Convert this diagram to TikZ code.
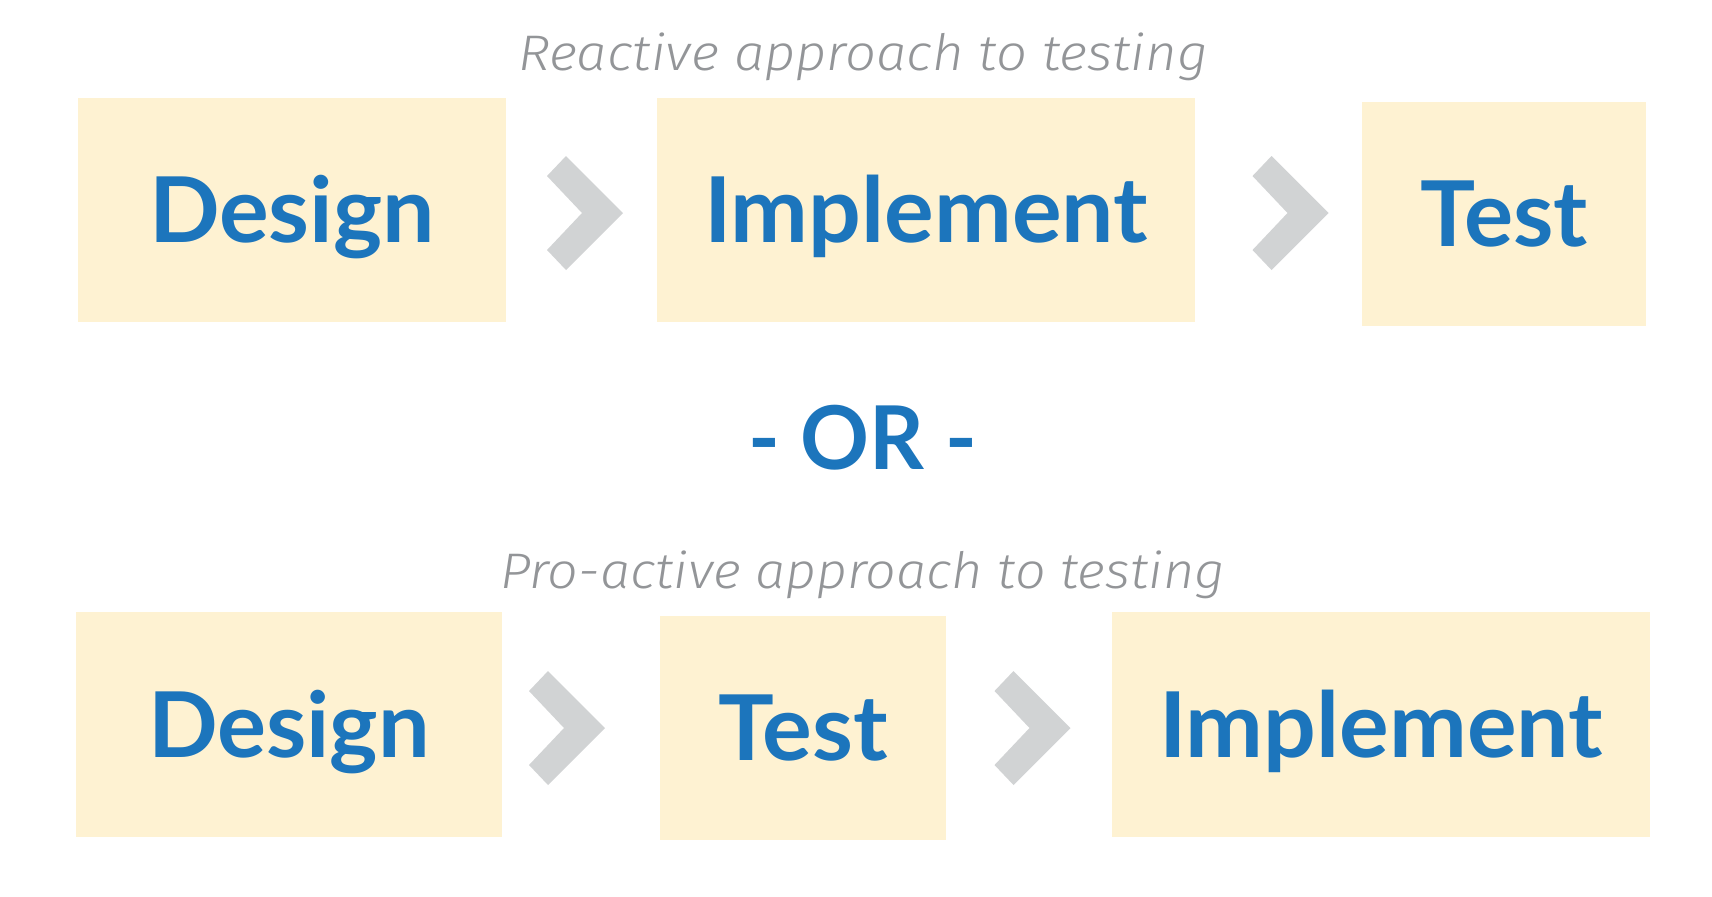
\documentclass[tikz,border=0pt]{standalone}
\usepackage{fontspec}
\usepackage{graphicx}
\newfontfamily\boxfont{Lato Bold}
\newfontfamily\titlefont{Fira Sans Light Italic}
\definecolor{boxfill}{HTML}{FEF2D2}
\definecolor{textblue}{HTML}{1C75BC}
\definecolor{chevgray}{HTML}{D1D3D4}
\definecolor{titlegray}{HTML}{939598}
\newlength\fitlen
\newcommand\fitw[2]{\settowidth\fitlen{#2}\pgfmathsetmacro\fitratio{#1/\fitlen}\scalebox{\fitratio}[1]{#2}}
\tikzset{
  stagebox/.style={fill=boxfill, draw=none, inner sep=0pt, text=textblue,
    font=\boxfont\fontsize{45.4pt}{50pt}\selectfont, text height=32.5pt, text depth=0pt},
  ortext/.style={anchor=base, inner sep=0pt, text=textblue,
    font=\boxfont\fontsize{44pt}{48pt}\selectfont},
  titletext/.style={anchor=base, inner sep=0pt, text=titlegray,
    font=\titlefont\fontsize{25pt}{29pt}\selectfont},
  chev/.pic={\fill[chevgray] (-19,-57) -- (38,0) -- (-19,57) -- (-38,37) -- (-3,0) -- (-38,-37) -- cycle;}
}
\begin{document}
\begin{tikzpicture}[x=0.5pt,y=-0.5pt]
\fill[white] (0,0) rectangle (1712,896);
\useasboundingbox (0,0) rectangle (1712,896);
% top row
\node[titletext] (t1) at (863,70) {\fitw{345pt}{Reactive approach to testing}};
\node[stagebox, minimum width=214pt, minimum height=112pt] (a1) at (292,210) {\fitw{143pt}{Design}};
\node[stagebox, minimum width=269pt, minimum height=112pt] (a2) at (926,210) {\fitw{222pt}{Implement}};
\node[stagebox, minimum width=142pt, minimum height=112pt] (a3) at (1504,214) {\fitw{84pt}{Test}};
\pic at (585,213) {chev};
\pic at (1290.5,213) {chev};
% or
\node[ortext] (or) at (862.5,469) {\fitw{114.5pt}{- OR -}};
% bottom row
\node[titletext] (t2) at (862.5,588) {\fitw{362.5pt}{Pro-active approach to testing}};
\node[stagebox, minimum width=213pt, minimum height=112.5pt] (b1) at (289,724.5) {\fitw{141pt}{Design}};
\node[stagebox, minimum width=143pt, minimum height=112pt] (b2) at (803,728) {\fitw{85pt}{Test}};
\node[stagebox, minimum width=269pt, minimum height=112.5pt] (b3) at (1381,724.5) {\fitw{222pt}{Implement}};
\pic at (567,728) {chev};
\pic at (1032.5,728) {chev};
\end{tikzpicture}
\end{document}
